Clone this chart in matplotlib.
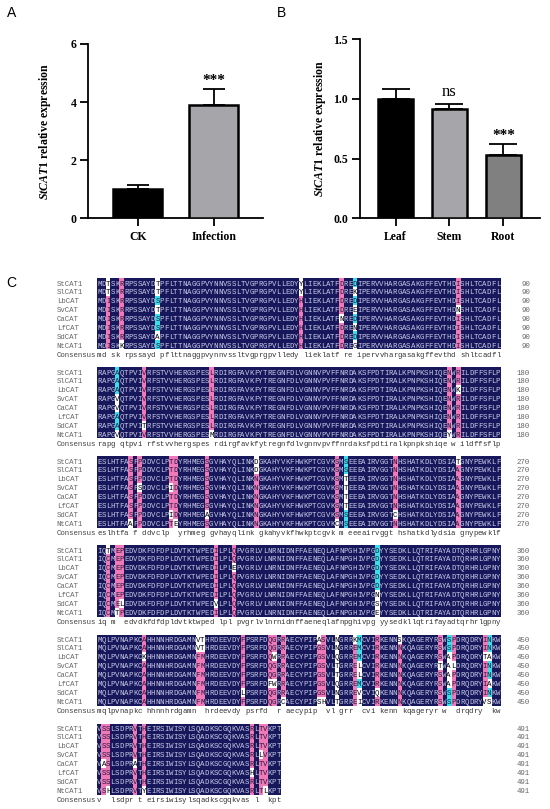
import numpy as np
import matplotlib.pyplot as plt
from collections import Counter
from matplotlib.colors import to_rgb

plt.rcParams['mathtext.fontset'] = 'custom'
plt.rcParams['mathtext.it'] = 'Liberation Serif:italic:bold'
plt.rcParams['mathtext.rm'] = 'Liberation Serif:bold'

# ---- panel A data ----
a_groups = ['CK', 'Infection']
a_means = [1.0, 3.9]
a_err = [0.13, 0.55]
a_colors = ['#000000', '#a6a6aa']
a_marks = ['', '***']

# ---- panel B data ----
b_groups = ['Leaf', 'Stem', 'Root']
b_means = [1.0, 0.916, 0.533]
b_err = [0.081, 0.04, 0.09]
b_colors = ['#000000', '#a6a6aa', '#808080']
b_marks = ['', 'ns', '***']

# ---- panel C data: alignment ----
names = ['StCAT1', 'SlCAT1', 'LbCAT', 'SvCAT', 'CaCAT', 'LfCAT', 'SdCAT', 'NtCAT1']
block_ends = [90, 180, 270, 360, 450, 491]
consensus = [
    "md sk rpssayd pflttnaggpvynnvssltvgprgpvlledy lieklatf re ipervvhargasakgffevthd shltcadfl",
    "rapg qtpvi rfstvvhergspes rdirgfavkfytregnfdlvgnnvpvffnrdaksfpdtiralkpnpkshiqe w ildffsflp",
    "eslhtfa f ddvclp  yrhmeg gvhayqlink gkahyvkfhwkptcgvk m eeeairvggt hshatkdlydsia gnypewklf",
    "iq m  edvdkfdfdpldvtktwped lpl pvgrlvlnrnidnffaeneqlafnpghivpg yysedkllqtrifayadtqrhrlgpny",
    "mqlpvnapkc hhnnhrdgamn  hrdeevdy psrfd  r aecypip  vl grr  cvi kenn kqageryr w  drqdry  kw",
    "v  lsdpr t eirsiwisylsqadkscgqkvas l  kpt",
]
# residues of the 8 sequences at each non-conserved column (in order)
variants = [
    ["TTIIIIII", "RRRRRRRK", "TTSTSSAS", "YYHHHHHH", "DDDDNDDD", "DKDEDNDG", "IIINIIII"],
    ["AAAVVAAV", "VVVVVVTV", "LLLLLLLM", "NNNNNNNY", "RRKRRRRR"],
    ["SSSSSSSA", "PPPSPPPP", "TTTITTIT", "DDDDDDDE", "SSSSSSAS", "DDNNNNNN",
     "SSSSSSSC", "SSTTTTSS", "NNNNNNCN", "TAAAAAAA"],
    ["TCCCCCCC", "EEEEEEET", "PPPPPPLP", "IIIIIIVI", "QQEQQQQQ", "DDDDDNSE"],
    ["AAKAAAAA", "VVFFFFFF", "TTMMMMMM", "FFFFFFLF", "QQQQQFQQ", "GGWGGWGG", "RRRRRRRC",
     "AGGGGGGS", "SSSSSSSH", "NNQTTQNT", "KEEEEEEE", "MMMLLMVI", "RRRRRRQR", "SNNNNNNN",
     "SSSTSSSS", "SSAAAASS", "PPPLPPPP", "IITIIIIV", "NNANNANS"],
    ["SSSSASSS", "SSSSSSSH", "VVVVAVVV", "HHHHHHHY", "RRRRRHRR", "TTTLTTTT", "VVVVVVVL"],
]

navy = '#17175c'
pink = '#f07ab8'
cyan = '#38dfe8'
txt_navy = '#c8cbe8'

W, H = 550, 809
fig = plt.figure(figsize=(W / 100, H / 100), dpi=100)


def px_axes(l, t, r, b):
    return fig.add_axes([l / W, 1 - b / H, (r - l) / W, (b - t) / H])


serif = 'Liberation Serif'


def style_bar_axes(ax):
    for s in ['top', 'right']:
        ax.spines[s].set_visible(False)
    for s in ['left', 'bottom']:
        ax.spines[s].set_linewidth(1.3)
    ax.tick_params(direction='out', length=5.5, width=1.3, labelsize=8.5, pad=3)
    ax.tick_params(axis='x', pad=4)
    for lab in ax.get_xticklabels() + ax.get_yticklabels():
        lab.set_fontfamily(serif)
        lab.set_fontweight('bold')


ylab = r'$\mathit{StCAT1}$ relative expression'

# ---- A ----
axA = px_axes(88.3, 44, 263.3, 218.3)
xa = np.arange(len(a_groups))
axA.bar(xa, a_means, width=0.645, color=a_colors, edgecolor='black', linewidth=1.8, zorder=3)
axA.errorbar(xa, a_means, yerr=[np.zeros(len(xa)), a_err], fmt='none', ecolor='black',
             elinewidth=1.3, capsize=8, capthick=1.3, zorder=2)
axA.set_xlim(-0.651, 1.651)
axA.set_ylim(0, 6)
axA.set_yticks([0, 2, 4, 6])
axA.set_xticks(xa)
axA.set_xticklabels(a_groups)
style_bar_axes(axA)
for x, m, e, t in zip(xa, a_means, a_err, a_marks):
    if t:
        axA.text(x, m + e + 0.3, t, ha='center', va='center', fontsize=11,
                 fontweight='bold', family=serif)
axA.set_ylabel(ylab, fontsize=8.5, fontweight='bold', family=serif)
axA.yaxis.set_label_coords(-0.2, 0.5)

# ---- B ----
axB = px_axes(360, 39.3, 540, 218.3)
xb = np.arange(len(b_groups))
axB.bar(xb, b_means, width=0.655, color=b_colors, edgecolor='black', linewidth=1.8, zorder=3)
axB.errorbar(xb, b_means, yerr=[np.zeros(len(xb)), b_err], fmt='none', ecolor='black',
             elinewidth=1.3, capsize=10, capthick=1.3, zorder=2)
axB.set_xlim(-0.66, 2.68)
axB.set_ylim(0, 1.5)
axB.set_yticks([0, 0.5, 1.0, 1.5])
axB.set_yticklabels(['0.0', '0.5', '1.0', '1.5'])
axB.set_xticks(xb)
axB.set_xticklabels(b_groups)
style_bar_axes(axB)
for x, m, e, t in zip(xb, b_means, b_err, b_marks):
    if t == 'ns':
        axB.text(x, m + e + 0.1, t, ha='center', va='center', fontsize=12, family=serif)
    elif t:
        axB.text(x, m + e + 0.075, t, ha='center', va='center', fontsize=11,
                 fontweight='bold', family=serif)
axB.set_ylabel(ylab, fontsize=8.5, fontweight='bold', family=serif)
axB.yaxis.set_label_coords(-0.178, 0.5)

for lx, ly, s in [(6.5, 13, 'A'), (277, 13, 'B'), (6.5, 283, 'C')]:
    fig.text(lx / W, 1 - ly / H, s, fontsize=10, family='Liberation Sans', va='center')

# ---- C: build sequences ----
seqs = [''] * len(names)
for cons, var in zip(consensus, variants):
    it = iter(var)
    for ch in cons:
        col = next(it) if ch == ' ' else ch.upper() * len(names)
        for i in range(len(names)):
            seqs[i] += col[i]
    assert next(it, None) is None

x0, cw = 97.0, 4.48        # left edge of first residue, px per residue
y1, dy = 283.0, 8.9        # first row centre, px per line
per_block = 10             # 8 sequences + consensus + gap
num_col = 96.6             # right edge of the residue counts, in residues
ctop = 262
axC = fig.add_axes([0, 0, 1, (H - ctop) / H])

n_lines = per_block * (len(block_ends) - 1) + len(names) + 1
img = np.ones((n_lines, 90, 3))
mono = 'Liberation Mono'
fs = 5.3

start = 0
for b, end in enumerate(block_ends):
    base = b * per_block
    for j in range(end - start):
        column = [s[start + j] for s in seqs]
        top, n = Counter(column).most_common(1)[0]
        frac = n / len(column)
        if frac == 1:
            bg, fg = navy, txt_navy
        elif frac >= 0.75:
            bg, fg = pink, '#2a1540'
        elif frac >= 0.5:
            bg, fg = cyan, '#10204a'
        else:
            bg, fg = None, 'black'
        for i, ch in enumerate(column):
            if bg is not None and ch == top:
                img[base + i, j] = to_rgb(bg)
                c = fg
            else:
                c = 'black'
            axC.text(j + 0.5, base + i, ch, ha='center', va='center_baseline',
                     fontsize=fs, family=mono, color=c)
        cch = consensus[b][j]
        if cch != ' ':
            axC.text(j + 0.5, base + len(names), cch, ha='center', va='center_baseline',
                     fontsize=fs, family=mono, color='#333333')
    for i, nm in enumerate(names):
        axC.text(-9, base + i, nm, ha='left', va='center_baseline', fontsize=fs,
                 family=mono, color='#666666')
        axC.text(num_col, base + i, str(end), ha='right', va='center_baseline', fontsize=fs,
                 family=mono, color='#666666')
    axC.text(-9, base + len(names), 'Consensus', ha='left', va='center_baseline',
             fontsize=fs, family=mono, color='#444444')
    start = end

axC.imshow(img, extent=(0, 90, n_lines - 0.5, -0.5), interpolation='nearest',
           aspect='auto', zorder=0)
axC.set_xlim(-x0 / cw, (W - x0) / cw)
axC.set_ylim((H - y1) / dy, (ctop - y1) / dy)
axC.axis('off')

fig.savefig('out.png', dpi=100)
